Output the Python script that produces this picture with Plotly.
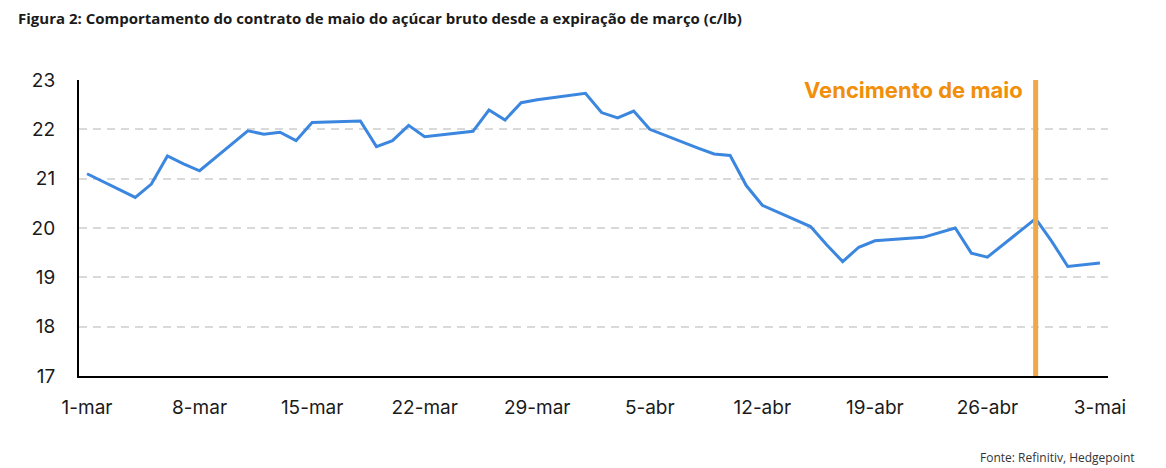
import plotly.graph_objects as go

dates = [
    "2019-03-01", "2019-03-04", "2019-03-05", "2019-03-06", "2019-03-07", "2019-03-08",
    "2019-03-11", "2019-03-12", "2019-03-13", "2019-03-14", "2019-03-15",
    "2019-03-18", "2019-03-19", "2019-03-20", "2019-03-21", "2019-03-22",
    "2019-03-25", "2019-03-26", "2019-03-27", "2019-03-28", "2019-03-29",
    "2019-04-01", "2019-04-02", "2019-04-03", "2019-04-04", "2019-04-05",
    "2019-04-08", "2019-04-09", "2019-04-10", "2019-04-11", "2019-04-12",
    "2019-04-15", "2019-04-16", "2019-04-17", "2019-04-18", "2019-04-19",
    "2019-04-22", "2019-04-23", "2019-04-24", "2019-04-25", "2019-04-26",
    "2019-04-29", "2019-04-30",
    "2019-05-01", "2019-05-02", "2019-05-03",
]
prices = [
    21.10, 20.62, 20.89, 21.46, 21.30, 21.16,
    21.97, 21.90, 21.94, 21.77, 22.14,
    22.17, 21.65, 21.77, 22.08, 21.85,
    21.96, 22.39, 22.19, 22.54, 22.60,
    22.73, 22.34, 22.23, 22.37, 22.00,
    21.62, 21.50, 21.47, 20.86, 20.46,
    20.03, 19.66, 19.32, 19.61, 19.74,
    19.81, 19.90, 20.00, 19.49, 19.41,
    20.19, 19.73,
    19.22, 19.25, 19.29,
]
tick_dates = ["2019-03-01", "2019-03-08", "2019-03-15", "2019-03-22", "2019-03-29",
              "2019-04-05", "2019-04-12", "2019-04-19", "2019-04-26", "2019-05-03"]
tick_labels = ["1-mar", "8-mar", "15-mar", "22-mar", "29-mar",
               "5-abr", "12-abr", "19-abr", "26-abr", "3-mai"]
y_ticks = [17, 18, 19, 20, 21, 22, 23]
expiry_date = "2019-04-29"
expiry_label = "Vencimento de maio"
title_text = "Figura 2: Comportamento do contrato de maio do açúcar bruto desde a expiração de março (c/lb)"
source_text = "Fonte: Refinitiv, Hedgepoint"

fig = go.Figure()
fig.add_trace(go.Scatter(
    x=dates, y=prices, mode="lines",
    line=dict(color="#3B86DF", width=3),
    showlegend=False, hoverinfo="x+y",
))

fig.add_shape(type="line", xref="x", yref="paper",
              x0=expiry_date, x1=expiry_date, y0=0, y1=1,
              line=dict(color="#F0A848", width=5), layer="above")

fig.add_annotation(x=expiry_date, y=22.8, xref="x", yref="y",
                   text=expiry_label, showarrow=False,
                   xanchor="right", yanchor="middle", xshift=-11,
                   font=dict(family="Inter", size=22, color="#F18E0A", weight=700))

fig.add_annotation(x=1.028, y=-0.274, xref="paper", yref="paper",
                   text=source_text, showarrow=False,
                   xanchor="right", yanchor="middle",
                   font=dict(family="Open Sans", size=12, color="#333333"))

fig.update_layout(
    width=1166, height=468,
    margin=dict(l=79, r=58, t=80, b=92),
    paper_bgcolor="white", plot_bgcolor="white",
    title=dict(text="<b>" + title_text + "</b>", x=18 / 1166, xanchor="left",
               y=1 - 19 / 468, yanchor="middle",
               font=dict(family="Open Sans", size=15, color="#1a1a1a")),
    font=dict(family="Inter", size=19, color="#1a1a1a"),
)
fig.update_xaxes(
    range=["2019-02-28 12:00", "2019-05-03 12:00"],
    tickvals=tick_dates, ticktext=tick_labels,
    showgrid=False, zeroline=False,
    showline=True, linecolor="black", linewidth=2,
    ticks="", ticklabelstandoff=13,
    tickfont=dict(family="Inter", size=19, color="#1a1a1a"),
)
fig.update_yaxes(
    range=[17, 23], tickvals=y_ticks,
    showgrid=True, gridcolor="#D9D9D9", gridwidth=1.5, griddash="8px,6px",
    zeroline=False,
    showline=True, linecolor="black", linewidth=2,
    ticks="", ticklabelstandoff=18,
    tickfont=dict(family="Inter", size=19, color="#1a1a1a"),
)

fig.write_html("out.html")
